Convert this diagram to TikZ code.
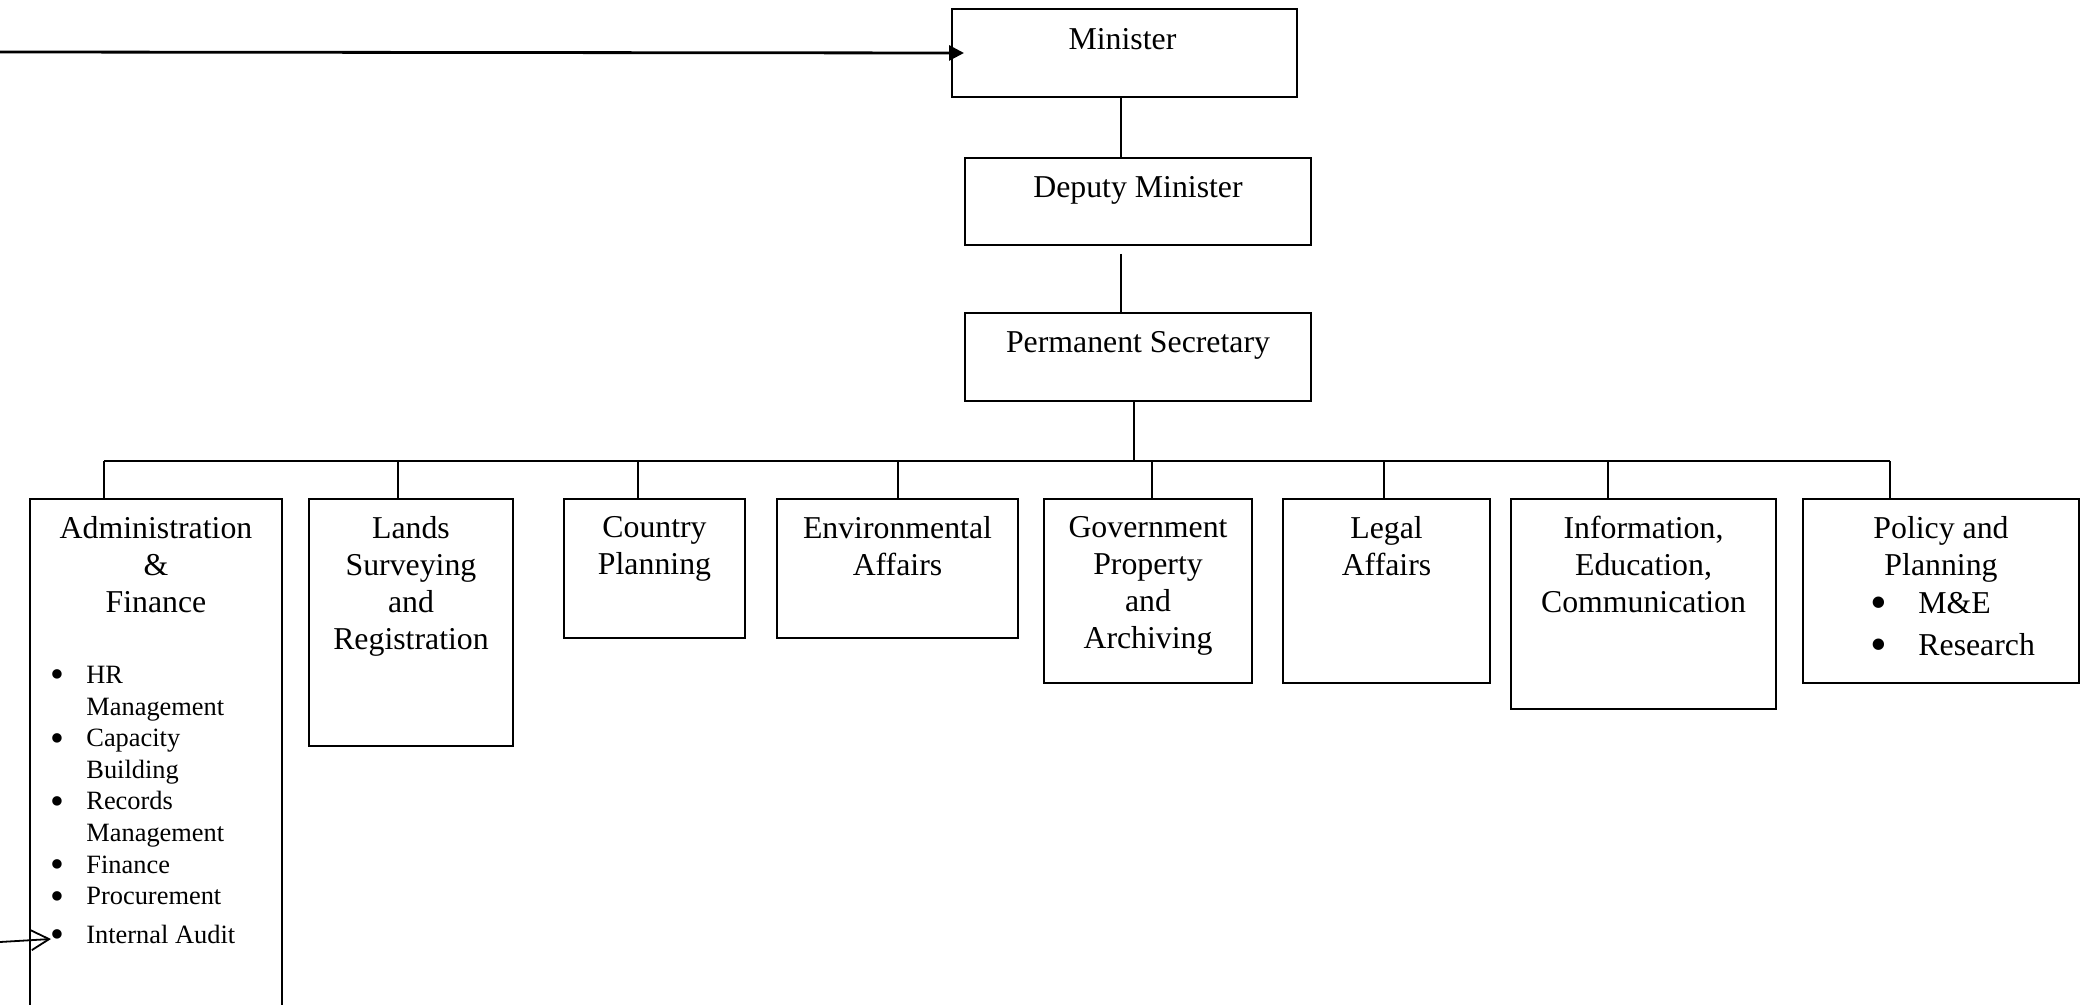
\documentclass[tikz,border=0pt]{standalone}
\usepackage{fontspec}
\usepackage{graphicx}
\setmainfont{Liberation Serif}
\usetikzlibrary{arrows.meta,calc}
\newcommand\bxfont{\fontsize{15.9pt}{18.5pt}\selectfont}
\newcommand\sxfont{\fontsize{13.2pt}{15.8pt}\selectfont}
\newcommand\bul[1]{\makebox[#1][l]{\raisebox{-0.16em}{\scalebox{1.5}{\textbullet}}}}
\begin{document}
\begin{tikzpicture}[x=0.5pt,y=-0.5pt,
  box/.style={draw, line width=1pt, inner sep=0pt, anchor=north west},
  ttl/.style={anchor=north, align=center, inner sep=0pt, font=\bxfont, execute at begin node=\strut},
  lst/.style={anchor=north west, align=left, inner sep=0pt, execute at begin node=\strut},
  conn/.style={line width=0.9pt},
]
\useasboundingbox (0,0) rectangle (2082,1005);

% top chain
\node[box, minimum width=172.5pt, minimum height=44pt] (minister) at (951,8) {};
\node[box, minimum width=173pt, minimum height=43.5pt] (deputy) at (964,157) {};
\node[box, minimum width=173pt, minimum height=44pt] (ps) at (964,312) {};
\node[ttl] (minister-t) at ($(minister.north)+(-2,15.5)$) {Minister};
\node[ttl] (deputy-t) at ($(deputy.north)+(0,14.5)$) {Deputy Minister};
\node[ttl] (ps-t) at ($(ps.north)+(0,14.5)$) {Permanent Secretary};

% departments
\node[box, minimum width=126pt, minimum height=257pt] (admin) at (29,498) {};
\node[box, minimum width=102pt, minimum height=123.5pt] (lands) at (308,498) {};
\node[box, minimum width=90.5pt, minimum height=69.5pt] (country) at (563,498) {};
\node[box, minimum width=120.5pt, minimum height=69.5pt] (env) at (776,498) {};
\node[box, minimum width=104pt, minimum height=92pt] (gov) at (1043,498) {};
\node[box, minimum width=103.5pt, minimum height=92pt] (legal) at (1282,498) {};
\node[box, minimum width=132.5pt, minimum height=105pt] (info) at (1510,498) {};
\node[box, minimum width=138pt, minimum height=92pt] (policy) at (1802,498) {};

\node[ttl] (admin-t) at ($(admin.north)+(0,18.1)$) {Administration\\\&\\Finance};
\node[ttl] (lands-t) at ($(lands.north)+(0,18.1)$) {Lands\\Surveying\\and\\Registration};
\node[ttl] (country-t) at ($(country.north)+(0,18.1)$) {Country\\Planning};
\node[ttl] (env-t) at ($(env.north)+(0,18.1)$) {Environmental\\Affairs};
\node[ttl] (gov-t) at ($(gov.north)+(0,18.1)$) {Government\\Property\\and\\Archiving};
\node[ttl] (legal-t) at ($(legal.north)+(0,18.1)$) {Legal\\Affairs};
\node[ttl] (info-t) at ($(info.north)+(0,18.1)$) {Information,\\Education,\\Communication};
\node[ttl] (policy-t) at ($(policy.north)+(0,18.1)$) {Policy and\\Planning};

\node[lst, font=\sxfont] (adminlist) at (50,665.9)
  {\bul{18pt}HR\\\hspace*{18pt}Management\\\bul{18pt}Capacity\\\hspace*{18pt}Building\\\bul{18pt}Records\\\hspace*{18pt}Management\\\bul{18pt}Finance\\\bul{18pt}Procurement\\[3.5pt]\bul{18pt}Internal Audit};
\node[lst, font=\bxfont] (policylist) at (1870,592)
  {\bul{24pt}M\&E\\[2.3pt]\bul{24pt}Research};

% connectors of the top chain
\coordinate (spine) at (1121,0);
\draw[conn] (spine |- minister.south) -- (spine |- deputy.north);
\draw[conn] ($(spine |- deputy.south)+(0,8)$) -- (spine |- ps.north);
\coordinate (psdrop) at (1134,461);
\draw[conn] (psdrop |- ps.south) -- (psdrop);

% bus
\coordinate (b1) at (104,461);
\coordinate (b2) at (398,461);
\coordinate (b3) at (638,461);
\coordinate (b4) at (898,461);
\coordinate (b5) at (1152,461);
\coordinate (b6) at (1384,461);
\coordinate (b7) at (1608,461);
\coordinate (b8) at (1890,461);
\draw[conn] (b1) -- (b8);
\draw[conn] (b1) -- (b1 |- admin.north);
\draw[conn] (b2) -- (b2 |- lands.north);
\draw[conn] (b3) -- (b3 |- country.north);
\draw[conn] (b4) -- (b4 |- env.north);
\draw[conn] (b5) -- (b5 |- gov.north);
\draw[conn] (b6) -- (b6 |- legal.north);
\draw[conn] (b7) -- (b7 |- info.north);
\draw[conn] (b8) -- (b8 |- policy.north);

% arrows
\coordinate (topsrc) at (0,52);
\draw[line width=1.4pt, -{Triangle[length=7.5pt,width=7.5pt]}] (topsrc) -- ($(minister.west)+(13,0)$);
\coordinate (auditsrc) at (0,942);
\coordinate (auditpt) at (51,939);
\draw[line width=0.9pt, -{Straight Barb[length=9pt,width=10pt]}] (auditsrc) -- (auditpt);
\end{tikzpicture}
\end{document}
